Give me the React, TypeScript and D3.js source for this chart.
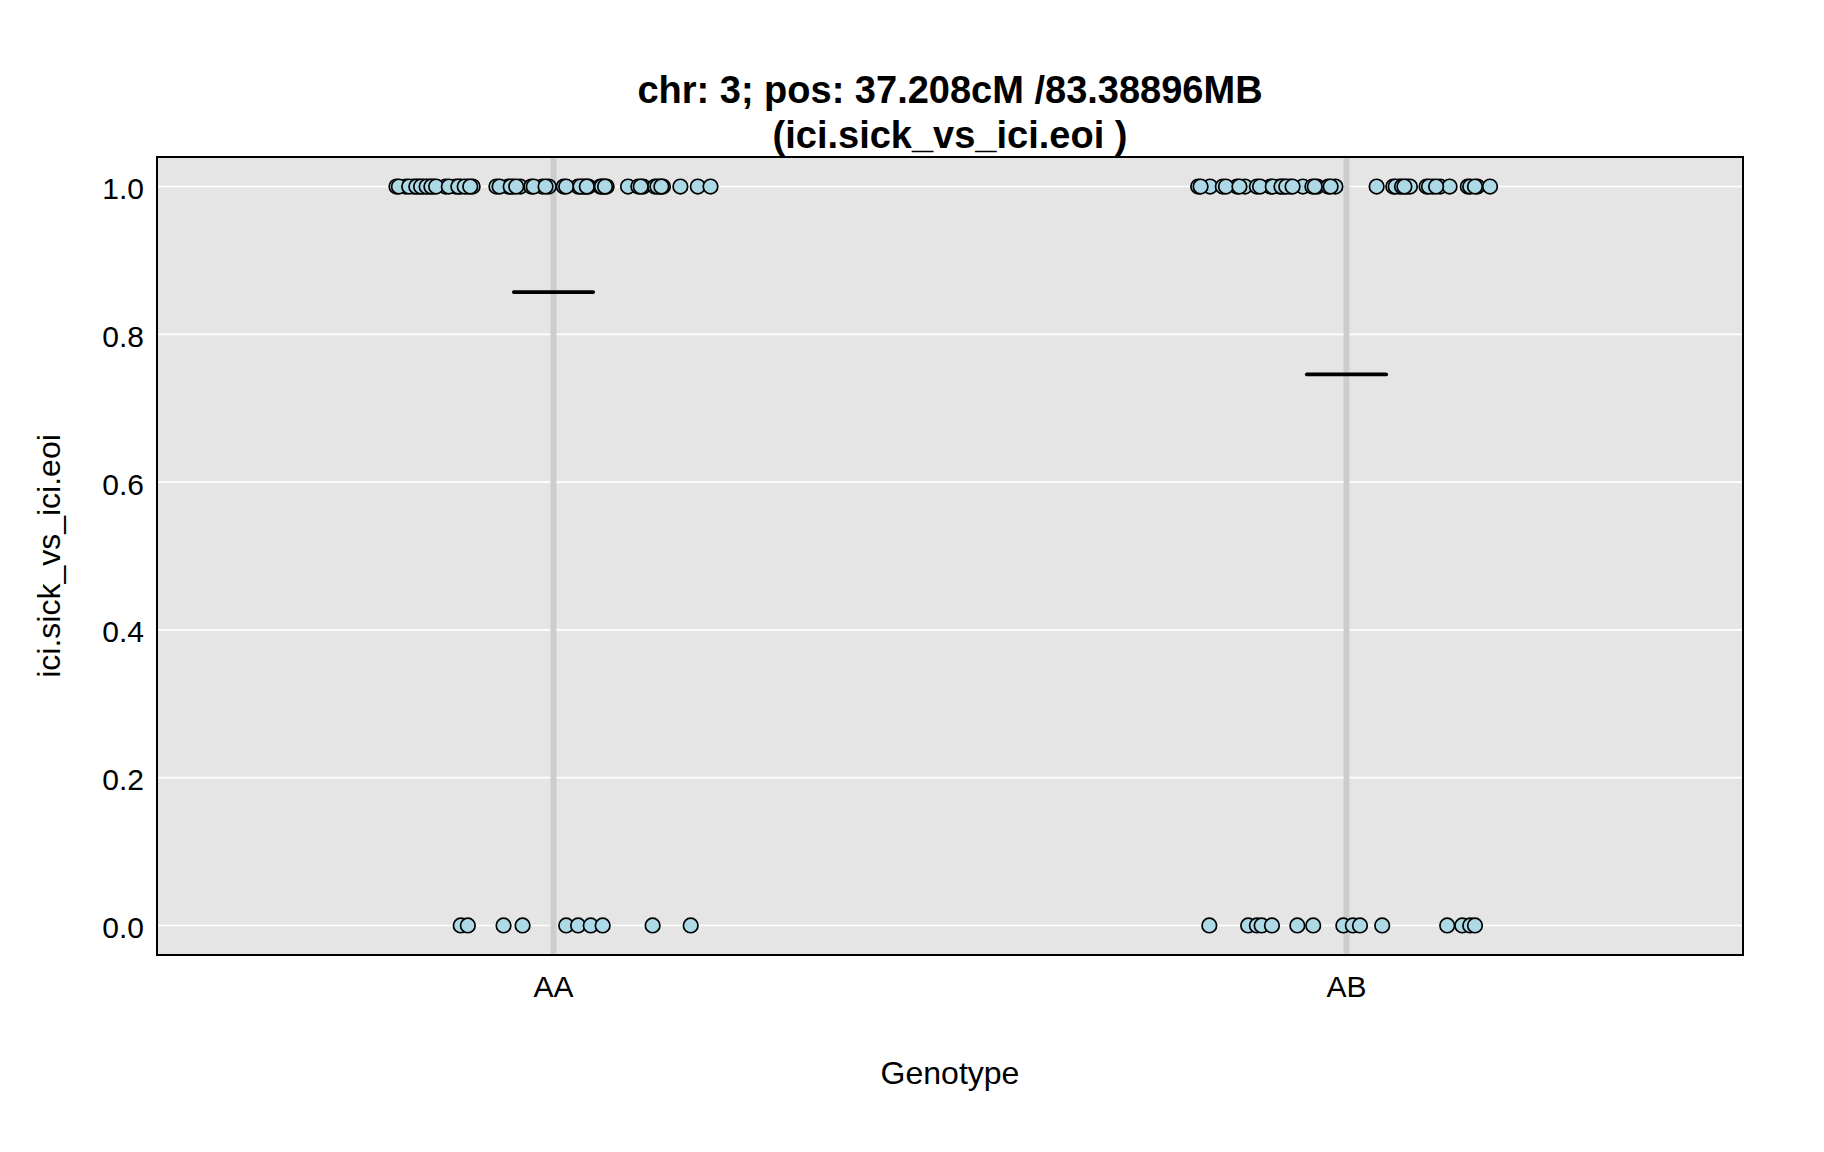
import React from "react";
import * as d3 from "d3";

const categories = ["AA", "AB"];
const yTicks = [0, 0.2, 0.4, 0.6, 0.8, 1.0];

// jittered x positions (axis units; AA = 1, AB = 2) for each value group
const aaOnesX = [
  0.802, 0.814, 0.824, 0.83, 0.836, 0.843, 0.849, 0.864, 0.877, 0.883, 0.892, 0.898,
  0.928, 0.943, 0.949, 0.958, 0.972, 0.986, 0.994, 1.013, 1.031, 1.037, 1.04, 1.044,
  1.059, 1.063, 1.067, 1.094, 1.107, 1.113, 1.128, 1.134, 1.138, 1.16, 1.182, 1.198,
  0.805, 0.818, 0.827, 0.833, 0.84, 0.846, 0.852, 0.868, 0.88, 0.888, 0.895, 0.932,
  0.946, 0.953, 0.975, 0.99, 1.016, 1.034, 1.042, 1.061, 1.065, 1.11, 1.131, 1.136,
];
const aaZerosX = [0.883, 0.892, 0.937, 0.961, 1.016, 1.031, 1.047, 1.062, 1.125, 1.173];
const abOnesX = [
  1.813, 1.828, 1.844, 1.862, 1.872, 1.887, 1.904, 1.916, 1.921, 1.929, 1.945, 1.957,
  1.963, 1.977, 1.986, 2.038, 2.059, 2.067, 2.076, 2.08, 2.101, 2.109, 2.118, 2.13,
  2.153, 2.165, 2.181,
  1.816, 1.848, 1.865, 1.891, 1.907, 1.918, 1.924, 1.932, 1.96, 1.98, 2.062, 2.07,
  2.073, 2.104, 2.113, 2.156, 2.162,
];
const abZerosX = [
  1.827, 1.876, 1.887, 1.893, 1.906, 1.938, 1.958, 1.996, 2.008, 2.017, 2.045, 2.127,
  2.146, 2.156, 2.162,
];

const titleLines = ["chr: 3; pos: 37.208cM /83.38896MB", "(ici.sick_vs_ici.eoi )"];
const xLabel = "Genotype";
const yLabel = "ici.sick_vs_ici.eoi";

type Pt = { x: number; y: number; g: number };
const points: Pt[] = [
  ...aaOnesX.map((x) => ({ x, y: 1, g: 0 })),
  ...aaZerosX.map((x) => ({ x, y: 0, g: 0 })),
  ...abOnesX.map((x) => ({ x, y: 1, g: 1 })),
  ...abZerosX.map((x) => ({ x, y: 0, g: 1 })),
];

const W = 1824;
const H = 1152;
const L = 157, R = 1743, T = 157, B = 955;
const FONT = "'Liberation Sans', Arial, Helvetica, sans-serif";

export default function App() {
  const x = d3.scaleLinear().domain([0.5, 2.5]).range([L, R]);
  const y = d3.scaleLinear().domain([-0.04, 1.04]).range([B, T]);
  const means = categories.map((_, i) => d3.mean(points.filter((p) => p.g === i), (p) => p.y) as number);

  return (
    <div style={{ position: "absolute", left: 0, top: 0 }}>
      <svg width={W} height={H} style={{ display: "block", background: "#ffffff" }}>
        <rect x={L} y={T} width={R - L} height={B - T} fill="#e5e5e5" />
        {yTicks.map((t) => (
          <line key={"g" + t} x1={L} x2={R} y1={y(t)} y2={y(t)} stroke="#ffffff" strokeWidth={1.6} />
        ))}
        {categories.map((c, i) => (
          <line key={"v" + c} x1={x(i + 1)} x2={x(i + 1)} y1={T} y2={B} stroke="#cdcdcd" strokeWidth={6} />
        ))}
        {points.map((p, i) => (
          <circle key={i} cx={x(p.x)} cy={y(p.y)} r={7.3} fill="#add8e6" stroke="#000000" strokeWidth={1.7} />
        ))}
        {categories.map((c, i) => (
          <line
            key={"m" + c}
            x1={x(i + 1 - 0.05)}
            x2={x(i + 1 + 0.05)}
            y1={y(means[i])}
            y2={y(means[i])}
            stroke="#000000"
            strokeWidth={3.8}
            strokeLinecap="round"
          />
        ))}
        <rect x={L} y={T} width={R - L} height={B - T} fill="none" stroke="#000000" strokeWidth={2} />
        {yTicks.map((t) => (
          <text key={"t" + t} x={144} y={y(t) + 12.5} textAnchor="end" fontFamily={FONT} fontSize={30} fill="#000">
            {d3.format(".1f")(t)}
          </text>
        ))}
        {categories.map((c, i) => (
          <text key={"c" + c} x={x(i + 1)} y={997} textAnchor="middle" fontFamily={FONT} fontSize={30} fill="#000">
            {c}
          </text>
        ))}
        <text x={(L + R) / 2} y={1084} textAnchor="middle" fontFamily={FONT} fontSize={32} fill="#000">
          {xLabel}
        </text>
        <text
          transform={`translate(60, ${(T + B) / 2}) rotate(-90)`}
          textAnchor="middle"
          fontFamily={FONT}
          fontSize={32}
          fill="#000"
        >
          {yLabel}
        </text>
        {titleLines.map((s, i) => (
          <text
            key={"ti" + i}
            x={(L + R) / 2}
            y={103 + i * 45}
            textAnchor="middle"
            fontFamily={FONT}
            fontSize={38}
            fontWeight="bold"
            fill="#000"
            style={{ whiteSpace: "pre" }}
          >
            {s}
          </text>
        ))}
      </svg>
    </div>
  );
}
